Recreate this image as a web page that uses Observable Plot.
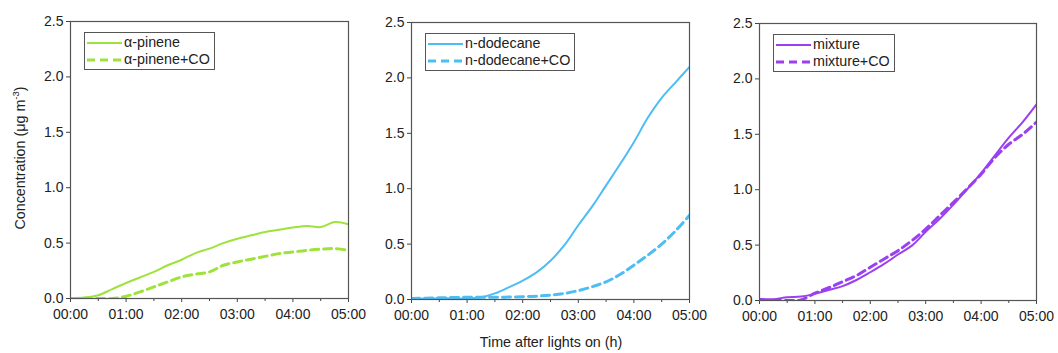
<!DOCTYPE html>
<html>
<head>
<meta charset="utf-8">
<script src="https://cdn.jsdelivr.net/npm/d3@7"></script>
<script src="https://cdn.jsdelivr.net/npm/@observablehq/plot@0.6"></script>
<style>
  html, body { margin: 0; padding: 0; background: #fff; }
  #wrap { position: relative; width: 1058px; height: 353px; font-family: "Liberation Sans", Arial, sans-serif; overflow: hidden; }
  .panel { position: absolute; top: 0; }
  .legend { position: absolute; border: 1px solid #555; background: #fff; font-size: 14.3px; color: #222; padding: 1px 4px 1px 2px; line-height: 17px; }
  .legend div { display: flex; align-items: center; white-space: nowrap; }
  .legend svg { margin-right: 1px; }
  .ytitle { position: absolute; left: 19px; top: 158px; transform: translate(-50%, -50%) rotate(-90deg); font-size: 14.3px; color: #222; white-space: nowrap; }
  .xtitle { position: absolute; left: 551px; top: 342px; transform: translate(-50%, -50%); font-size: 14.3px; color: #222; white-space: nowrap; }
</style>
</head>
<body>
<div id="wrap"></div>
<script>
// Hours after lights on
const hours = [0, 0.25, 0.5, 0.75, 1, 1.25, 1.5, 1.75, 2, 2.25, 2.5, 2.75, 3, 3.25, 3.5, 3.75, 4, 4.25, 4.5, 4.75, 5];

const aPinene     = [0.005, 0.01, 0.03, 0.085, 0.14, 0.19, 0.24, 0.30, 0.35, 0.41, 0.45, 0.50, 0.54, 0.57, 0.60, 0.62, 0.64, 0.655, 0.645, 0.69, 0.67];
const aPineneCO   = [0, 0, 0, 0, 0.02, 0.06, 0.105, 0.15, 0.195, 0.22, 0.24, 0.30, 0.33, 0.355, 0.38, 0.405, 0.42, 0.435, 0.445, 0.45, 0.435];
const dodecane    = [0.005, 0.008, 0.01, 0.012, 0.008, 0.02, 0.055, 0.11, 0.17, 0.245, 0.35, 0.49, 0.67, 0.84, 1.03, 1.22, 1.42, 1.64, 1.82, 1.96, 2.10];
const dodecaneCO  = [0.01, 0.012, 0.015, 0.018, 0.02, 0.02, 0.02, 0.022, 0.025, 0.03, 0.04, 0.055, 0.08, 0.115, 0.16, 0.225, 0.31, 0.40, 0.50, 0.62, 0.76];
const mixture     = [0.015, 0.012, 0.03, 0.036, 0.06, 0.095, 0.13, 0.185, 0.255, 0.33, 0.415, 0.495, 0.62, 0.735, 0.865, 1.005, 1.15, 1.31, 1.47, 1.61, 1.77];
const mixtureCO   = [0, 0, 0, 0.005, 0.066, 0.115, 0.17, 0.225, 0.30, 0.375, 0.45, 0.54, 0.645, 0.765, 0.885, 1.01, 1.14, 1.29, 1.41, 1.50, 1.61];

const xTicks = [0, 1, 2, 3, 4, 5];
const xMinorTicks = [0.5, 1.5, 2.5, 3.5, 4.5];
const yTicks = [0, 0.5, 1.0, 1.5, 2.0, 2.5];
const panelNames = [["α-pinene", "α-pinene+CO"], ["n-dodecane", "n-dodecane+CO"], ["mixture", "mixture+CO"]];
const panelSeries = [[aPinene, aPineneCO], [dodecane, dodecaneCO], [mixture, mixtureCO]];
const colors = ["#9ee33b", "#4dbdf6", "#9b3ff2"];

const yTitle = "Concentration (μg m<sup style='font-size:9.5px'>-3</sup>)";
const xTitle = "Time after lights on (h)";

// Layout (pixel geometry of each panel)
const layout = [
  {left: 0,   width: 356, ml: 70,  mr: 8,  mt: 21, mb: 55, legend: {left: 84, top: 32}},
  {left: 360, width: 336, ml: 51,  mr: 7,  mt: 22, mb: 54, legend: {left: 425, top: 33}},
  {left: 708, width: 350, ml: 51,  mr: 22, mt: 23, mb: 53, legend: {left: 773, top: 34}}
];

const wrap = document.getElementById("wrap");
const fmt = h => String(Math.floor(h)).padStart(2, "0") + ":00";

panelSeries.forEach((series, i) => {
  const L = layout[i];
  const rows = [];
  series.forEach((vals, k) => vals.forEach((v, j) => rows.push({h: hours[j], v, s: panelNames[i][k], k})));
  const solid = rows.filter(d => d.k === 0);
  const dashed = rows.filter(d => d.k === 1);
  const chart = Plot.plot({
    width: L.width,
    height: 353,
    marginLeft: L.ml, marginRight: L.mr, marginTop: L.mt, marginBottom: L.mb,
    style: {fontFamily: "'Liberation Sans', Arial, sans-serif", fontSize: "14px", color: "#222", background: "transparent", overflow: "visible"},
    x: {domain: [0, 5]},
    y: {domain: [0, 2.5]},
    marks: [
      Plot.line(dashed, {x: "h", y: "v", stroke: colors[i], strokeWidth: 3, strokeDasharray: "8,5", curve: "catmull-rom", clip: true}),
      Plot.line(solid, {x: "h", y: "v", stroke: colors[i], strokeWidth: 2, curve: "catmull-rom", clip: true}),
      Plot.axisX({ticks: xTicks, tickFormat: fmt, tickSize: 4, tickPadding: 7, stroke: "#444", label: null, fill: "#222"}),
      Plot.axisX({ticks: xMinorTicks, tickFormat: () => "", tickSize: 3, stroke: "#444", label: null}),
      Plot.axisY({ticks: yTicks, tickFormat: d3.format(".1f"), tickSize: 4, tickPadding: 3, stroke: "#444", label: null, fill: "#222"}),
      Plot.frame({stroke: "#555", strokeWidth: 1.2})
    ]
  });
  chart.classList.add("panel");
  chart.style.left = L.left + "px";
  wrap.appendChild(chart);

  // legend
  const lg = document.createElement("div");
  lg.className = "legend";
  lg.style.left = L.legend.left + "px";
  lg.style.top = L.legend.top + "px";
  panelNames[i].forEach((name, k) => {
    const row = document.createElement("div");
    const dash = k === 1 ? "stroke-dasharray='8,5'" : "";
    const sw = k === 1 ? 3 : 2;
    row.innerHTML = `<svg width="36" height="10"><line x1="0" y1="5" x2="35" y2="5" stroke="${colors[i]}" stroke-width="${sw}" ${dash}/></svg><span>${name}</span>`;
    lg.appendChild(row);
  });
  wrap.appendChild(lg);
});

const yt = document.createElement("div");
yt.className = "ytitle";
yt.innerHTML = yTitle;
wrap.appendChild(yt);
const xt = document.createElement("div");
xt.className = "xtitle";
xt.textContent = xTitle;
wrap.appendChild(xt);
</script>
</body>
</html>
